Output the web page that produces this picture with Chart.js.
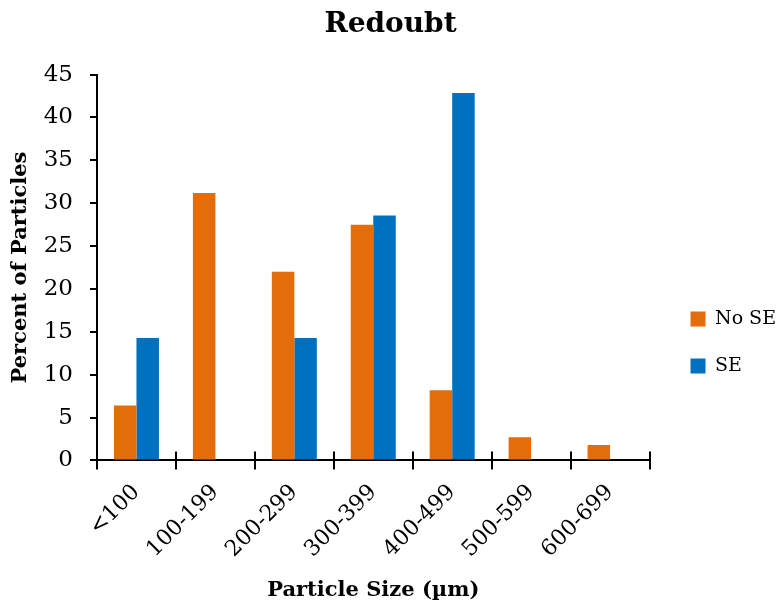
<!DOCTYPE html>
<html>
<head>
<meta charset="utf-8">
<title>Redoubt</title>
<script src="https://cdn.jsdelivr.net/npm/chart.js@4.4.1/dist/chart.umd.min.js"></script>
<style>
  html, body { margin: 0; padding: 0; background: #fff; }
  #wrap { width: 780px; height: 609px; }
</style>
</head>
<body>
<div id="wrap"><canvas id="chart" width="780" height="609"></canvas></div>
<script>
const sizeClasses = ['<100', '100-199', '200-299', '300-399', '400-499', '500-599', '600-699'];
const noSE = [6.4, 31.2, 22.0, 27.5, 8.2, 2.7, 1.8];
const withSE = [14.29, null, 14.29, 28.57, 42.86, null, null];
const yTicks = [0, 5, 10, 15, 20, 25, 30, 35, 40, 45];

const serif = '"DejaVu Serif", "Liberation Serif", serif';

// x-axis tick marks cross the axis line, so draw the upper half too
const crossTicks = {
  id: 'crossTicks',
  afterDraw(chart) {
    const xs = chart.scales.x;
    const ctx = chart.ctx;
    ctx.save();
    ctx.strokeStyle = '#000';
    ctx.lineWidth = 2;
    ctx.beginPath();
    for (let i = 0; i <= sizeClasses.length; i++) {
      const px = Math.round(xs.getPixelForValue(i - 0.5));
      ctx.moveTo(px, xs.top - 9);
      ctx.lineTo(px, xs.top);
    }
    ctx.stroke();
    ctx.restore();
  }
};

// legend sits lower than the plot centre and closer to the edge
const legendShift = {
  id: 'legendShift',
  afterLayout(chart) {
    const lg = chart.legend;
    lg.top += 41;
    lg.bottom += 41;
    lg.left += 13;
    lg.right += 13;
  }
};

new Chart(document.getElementById('chart').getContext('2d'), {
  type: 'bar',
  data: {
    labels: sizeClasses,
    datasets: [
      { label: 'No SE', data: noSE, backgroundColor: '#E46C0A', borderWidth: 0 },
      { label: 'SE', data: withSE, backgroundColor: '#0070C0', borderWidth: 0 }
    ]
  },
  options: {
    responsive: false,
    animation: false,
    layout: { padding: { top: 0, right: 7, left: 8, bottom: 6 } },
    datasets: { bar: { categoryPercentage: 0.57, barPercentage: 1.0 } },
    plugins: {
      title: {
        display: true,
        text: 'Redoubt',
        color: '#000',
        font: { family: serif, size: 28, weight: 'bold' },
        padding: { top: 8, bottom: 33 }
      },
      legend: {
        position: 'right',
        labels: {
          color: '#000',
          boxWidth: 15,
          boxHeight: 15,
          padding: 28,
          font: { family: serif, size: 19 }
        }
      },
      tooltip: { enabled: false }
    },
    scales: {
      x: {
        offset: true,
        // rotated first label may hang left of the plot; don't reserve room for it
        afterFit: (scale) => { scale.paddingLeft = 0; scale.paddingRight = 0; },
        grid: { display: true, drawOnChartArea: false, offset: true, tickLength: 9, color: '#000', lineWidth: 2 },
        border: { color: '#000', width: 2 },
        ticks: { color: '#000', minRotation: 45, maxRotation: 45, padding: 10, font: { family: serif, size: 22 } },
        title: {
          display: true,
          text: 'Particle Size (µm)',
          color: '#000',
          font: { family: serif, size: 21, weight: 'bold' },
          padding: { top: 5, bottom: 0 }
        }
      },
      y: {
        min: 0,
        max: 45,
        afterBuildTicks: (scale) => { scale.ticks = yTicks.map(v => ({ value: v })); },
        afterFit: (scale) => { scale.width = 89; },
        grid: { drawOnChartArea: false, tickLength: 7, color: '#000', lineWidth: 2 },
        border: { color: '#000', width: 2 },
        ticks: { color: '#000', padding: 17, font: { family: serif, size: 23 } },
        title: {
          display: true,
          text: 'Percent of Particles',
          color: '#000',
          font: { family: serif, size: 21, weight: 'bold' },
          padding: { top: 0, bottom: 8 }
        }
      }
    }
  },
  plugins: [crossTicks, legendShift]
});
</script>
</body>
</html>
